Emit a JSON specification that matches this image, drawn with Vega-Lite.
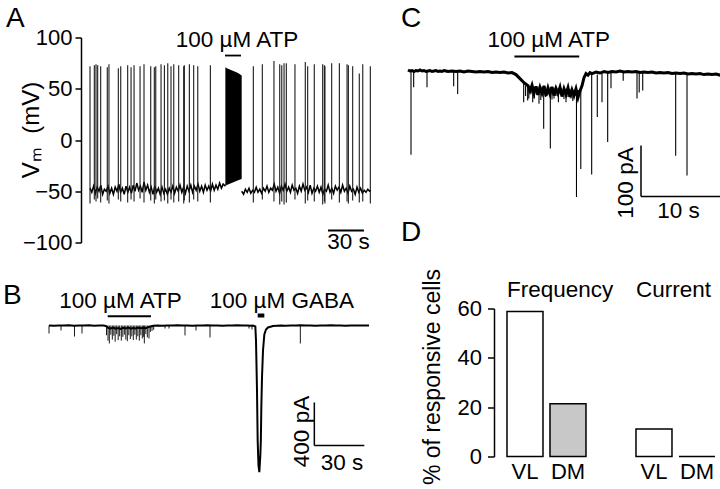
{
"$schema": "https://vega.github.io/schema/vega-lite/v6.json",
"background": "white",
"padding": {"left": 2, "top": 4.5, "right": 0, "bottom": 0},
"config": {
  "view": {"stroke": null},
  "font": "Liberation Sans",
  "axis": {"grid": false, "labelFont": "Liberation Sans", "titleFont": "Liberation Sans", "labelColor": "black", "titleColor": "black", "domainColor": "black", "tickColor": "black", "titleFontWeight": "normal"},
  "text": {"font": "Liberation Sans", "fontSize": 22.5, "color": "black"}
},
"datasets": {
  "aBase": [
    {"seg":1,"t":0,"v":-47},{"seg":1,"t":1.5,"v":-51},{"seg":1,"t":3,"v":-45},{"seg":1,"t":4.5,"v":-52},{"seg":1,"t":6,"v":-46},{"seg":1,"t":7.5,"v":-50},{"seg":1,"t":9,"v":-44},{"seg":1,"t":10.5,"v":-53},{"seg":1,"t":12,"v":-48},{"seg":1,"t":13.5,"v":-50},
    {"seg":1,"t":15,"v":-45},{"seg":1,"t":16.5,"v":-52},{"seg":1,"t":18,"v":-47},{"seg":1,"t":19.5,"v":-53},{"seg":1,"t":21,"v":-46},{"seg":1,"t":22.5,"v":-50},{"seg":1,"t":24,"v":-43},{"seg":1,"t":25.5,"v":-51},{"seg":1,"t":27,"v":-47},{"seg":1,"t":28.5,"v":-53},
    {"seg":1,"t":30,"v":-45},{"seg":1,"t":31.5,"v":-51},{"seg":1,"t":33,"v":-46},{"seg":1,"t":34.5,"v":-52},{"seg":1,"t":36,"v":-44},{"seg":1,"t":37.5,"v":-50},{"seg":1,"t":39,"v":-42},{"seg":1,"t":40.5,"v":-49},{"seg":1,"t":42,"v":-45},{"seg":1,"t":43.5,"v":-51},
    {"seg":1,"t":45,"v":-41},{"seg":1,"t":46.5,"v":-49},{"seg":1,"t":48,"v":-44},{"seg":1,"t":49.5,"v":-51},{"seg":1,"t":51,"v":-46},{"seg":1,"t":52.5,"v":-53},{"seg":1,"t":54,"v":-45},{"seg":1,"t":55.5,"v":-51},{"seg":1,"t":57,"v":-47},{"seg":1,"t":58.5,"v":-53},
    {"seg":1,"t":60,"v":-46},{"seg":1,"t":61.5,"v":-52},{"seg":1,"t":63,"v":-48},{"seg":1,"t":64.5,"v":-53},{"seg":1,"t":66,"v":-47},{"seg":1,"t":67.5,"v":-51},{"seg":1,"t":69,"v":-45},{"seg":1,"t":70.5,"v":-52},{"seg":1,"t":72,"v":-46},{"seg":1,"t":73.5,"v":-50},
    {"seg":1,"t":75,"v":-44},{"seg":1,"t":76.5,"v":-51},{"seg":1,"t":78,"v":-46},{"seg":1,"t":79.5,"v":-52},{"seg":1,"t":81,"v":-45},{"seg":1,"t":82.5,"v":-50},{"seg":1,"t":84,"v":-44},{"seg":1,"t":85.5,"v":-51},{"seg":1,"t":87,"v":-45},{"seg":1,"t":88.5,"v":-49},
    {"seg":1,"t":90,"v":-43},{"seg":1,"t":91.5,"v":-50},{"seg":1,"t":93,"v":-45},{"seg":1,"t":94.5,"v":-51},{"seg":1,"t":96,"v":-44},{"seg":1,"t":97.5,"v":-49},{"seg":1,"t":99,"v":-45},{"seg":1,"t":100.5,"v":-50},{"seg":1,"t":102,"v":-43},{"seg":1,"t":103.5,"v":-49},
    {"seg":1,"t":105,"v":-44},{"seg":1,"t":106.5,"v":-48},{"seg":1,"t":108,"v":-42},{"seg":1,"t":109.5,"v":-47},{"seg":1,"t":111,"v":-43},{"seg":1,"t":112.8,"v":-45},
    {"seg":2,"t":126.4,"v":-50},{"seg":2,"t":128,"v":-53},{"seg":2,"t":129.5,"v":-48},{"seg":2,"t":131,"v":-51},{"seg":2,"t":132.5,"v":-47},{"seg":2,"t":134,"v":-52},{"seg":2,"t":135.5,"v":-49},{"seg":2,"t":137,"v":-51},{"seg":2,"t":138.5,"v":-46},{"seg":2,"t":140,"v":-51},
    {"seg":2,"t":141.5,"v":-48},{"seg":2,"t":143,"v":-52},{"seg":2,"t":144.5,"v":-47},{"seg":2,"t":146,"v":-50},{"seg":2,"t":147.5,"v":-45},{"seg":2,"t":149,"v":-51},{"seg":2,"t":150.5,"v":-47},{"seg":2,"t":152,"v":-49},{"seg":2,"t":153.5,"v":-43},{"seg":2,"t":155,"v":-50},
    {"seg":2,"t":156.5,"v":-46},{"seg":2,"t":158,"v":-52},{"seg":2,"t":159.5,"v":-45},{"seg":2,"t":161,"v":-49},{"seg":2,"t":162.5,"v":-43},{"seg":2,"t":164,"v":-50},{"seg":2,"t":165.5,"v":-46},{"seg":2,"t":167,"v":-51},{"seg":2,"t":168.5,"v":-44},{"seg":2,"t":170,"v":-49},
    {"seg":2,"t":171.5,"v":-47},{"seg":2,"t":173,"v":-52},{"seg":2,"t":174.5,"v":-45},{"seg":2,"t":176,"v":-50},{"seg":2,"t":177.5,"v":-43},{"seg":2,"t":179,"v":-49},{"seg":2,"t":180.5,"v":-46},{"seg":2,"t":182,"v":-51},{"seg":2,"t":183.5,"v":-44},{"seg":2,"t":185,"v":-52},
    {"seg":2,"t":186.5,"v":-47},{"seg":2,"t":188,"v":-50},{"seg":2,"t":189.5,"v":-45},{"seg":2,"t":191,"v":-51},{"seg":2,"t":192.5,"v":-46},{"seg":2,"t":194,"v":-53},{"seg":2,"t":195.5,"v":-48},{"seg":2,"t":197,"v":-50},{"seg":2,"t":198.5,"v":-44},{"seg":2,"t":200,"v":-51},
    {"seg":2,"t":201.5,"v":-47},{"seg":2,"t":203,"v":-52},{"seg":2,"t":204.5,"v":-45},{"seg":2,"t":206,"v":-49},{"seg":2,"t":207.5,"v":-46},{"seg":2,"t":209,"v":-51},{"seg":2,"t":210.5,"v":-44},{"seg":2,"t":212,"v":-50},{"seg":2,"t":213.5,"v":-47},{"seg":2,"t":215,"v":-52},
    {"seg":2,"t":216.5,"v":-45},{"seg":2,"t":218,"v":-50},{"seg":2,"t":219.5,"v":-48},{"seg":2,"t":221,"v":-53},{"seg":2,"t":222.5,"v":-46},{"seg":2,"t":224,"v":-51},{"seg":2,"t":225.5,"v":-47},{"seg":2,"t":227,"v":-52},{"seg":2,"t":228.5,"v":-49},{"seg":2,"t":230,"v":-51},
    {"seg":2,"t":231.5,"v":-48},{"seg":2,"t":233,"v":-50},{"seg":2,"t":234,"v":-49}
  ],
  "aSpk": [
    {"t":0,"lo":-62,"hi":72},{"t":3.6,"lo":-58,"hi":73},{"t":5.0,"lo":-60,"hi":74},{"t":6.4,"lo":-57,"hi":73},{"t":8.9,"lo":-61,"hi":72},
    {"t":14.4,"lo":-59,"hi":71},{"t":15.8,"lo":-62,"hi":74},{"t":23.6,"lo":-58,"hi":70},{"t":25.6,"lo":-60,"hi":72},{"t":31.4,"lo":-61,"hi":73},
    {"t":34.2,"lo":-58,"hi":71},{"t":36.7,"lo":-60,"hi":73},{"t":41.7,"lo":-57,"hi":72},{"t":45.0,"lo":-61,"hi":74},{"t":50.6,"lo":-59,"hi":72},
    {"t":53.6,"lo":-62,"hi":71},{"t":54.8,"lo":-58,"hi":72},{"t":59.2,"lo":-60,"hi":74},{"t":62.0,"lo":-59,"hi":73},{"t":64.8,"lo":-62,"hi":75},
    {"t":67.5,"lo":-58,"hi":72},{"t":69.8,"lo":-61,"hi":74},{"t":73.9,"lo":-60,"hi":73},{"t":78.1,"lo":-62,"hi":72},{"t":78.6,"lo":-59,"hi":73},
    {"t":82.8,"lo":-61,"hi":74},{"t":86.4,"lo":-58,"hi":73},{"t":89.8,"lo":-60,"hi":72},{"t":100.3,"lo":-61,"hi":73},
    {"t":136.1,"lo":-61,"hi":72},{"t":143.6,"lo":-58,"hi":74},{"t":153.3,"lo":-60,"hi":77},{"t":158.1,"lo":-63,"hi":74},{"t":159.8,"lo":-60,"hi":73},
    {"t":161.7,"lo":-63,"hi":75},{"t":163.6,"lo":-61,"hi":75},{"t":170.8,"lo":-58,"hi":74},{"t":179.4,"lo":-62,"hi":76},{"t":181.4,"lo":-59,"hi":72},
    {"t":186.9,"lo":-60,"hi":74},{"t":193.9,"lo":-63,"hi":74},{"t":195.3,"lo":-60,"hi":73},{"t":195.8,"lo":-62,"hi":72},{"t":201.4,"lo":-58,"hi":75},
    {"t":207.8,"lo":-61,"hi":75},{"t":214.2,"lo":-60,"hi":74},{"t":215.3,"lo":-62,"hi":73},{"t":218.9,"lo":-59,"hi":72},{"t":224.4,"lo":-61,"hi":65},
    {"t":227.3,"lo":-60,"hi":74},{"t":233.6,"lo":-62,"hi":72}
  ],
  "aBurst": [
    {"t":112.8,"top":71,"bot":-45},{"t":114,"top":70,"bot":-44},{"t":116,"top":69,"bot":-43},{"t":118,"top":68,"bot":-42},
    {"t":120,"top":67,"bot":-41},{"t":122,"top":66,"bot":-40},{"t":124,"top":65,"bot":-39},{"t":126.4,"top":63,"bot":-38}
  ],
  "aBars": [
    {"t":112.5,"t2":125.8,"v":82.4},
    {"t":198.3,"t2":228.3,"v":-88.3}
  ],
  "aText": [
    {"t":122.5,"v":90.5,"label":"100 µM ATP"},
    {"t":215.4,"v":-105.9,"label":"30 s"}
  ],
  "aLetter": [{"t":-70,"v":109.8,"label":"A"}],
  "bBase": [
    {"t":0,"v":0},{"t":3,"v":-2},{"t":6,"v":1},{"t":9,"v":-1},{"t":12,"v":2},{"t":15,"v":-2},{"t":18,"v":1},{"t":21,"v":-1},{"t":24,"v":2},{"t":27,"v":-2},
    {"t":30,"v":1},{"t":33,"v":-1},{"t":34.5,"v":-8},{"t":35.5,"v":-22},{"t":37,"v":-28},{"t":38.5,"v":-20},{"t":40,"v":-30},{"t":41.5,"v":-24},{"t":43,"v":-32},{"t":44.5,"v":-22},
    {"t":46,"v":-28},{"t":47.5,"v":-20},{"t":49,"v":-30},{"t":50.5,"v":-24},{"t":52,"v":-28},{"t":53.5,"v":-20},{"t":55,"v":-26},{"t":56.5,"v":-22},{"t":58,"v":-25},{"t":59.5,"v":-15},
    {"t":61,"v":-10},{"t":62.5,"v":-3},{"t":65,"v":1},{"t":68,"v":-2},{"t":71,"v":1},{"t":74,"v":-1},{"t":77,"v":2},{"t":80,"v":-1},{"t":83,"v":1},{"t":86,"v":-2},
    {"t":89,"v":1},{"t":92,"v":-1},{"t":95,"v":2},{"t":98,"v":-1},{"t":101,"v":1},{"t":104,"v":-2},{"t":107,"v":1},{"t":110,"v":-1},{"t":113,"v":2},{"t":116,"v":-1},
    {"t":119,"v":1},{"t":121,"v":-2},{"t":122.4,"v":0},{"t":123.8,"v":-9},{"t":124.2,"v":-139},{"t":124.8,"v":-601},{"t":125.2,"v":-1064},{"t":125.7,"v":-1295},{"t":126.2,"v":-1357},{"t":126.8,"v":-1202},
    {"t":127.1,"v":-1064},{"t":127.4,"v":-756},{"t":127.8,"v":-478},{"t":128.4,"v":-231},{"t":129.2,"v":-83},{"t":130.2,"v":-37},{"t":131.4,"v":-18.5},{"t":134.4,"v":-4.6},{"t":139.2,"v":0},{"t":142,"v":-2},
    {"t":145,"v":1},{"t":148,"v":-1},{"t":151,"v":2},{"t":154,"v":-1},{"t":157,"v":1},{"t":160,"v":-2},{"t":163,"v":1},{"t":166,"v":-1},{"t":169,"v":2},{"t":172,"v":-1},
    {"t":175,"v":1},{"t":178,"v":-2},{"t":181,"v":1},{"t":184,"v":-1},{"t":187,"v":1},{"t":190,"v":-1},{"t":192,"v":0}
  ],
  "bSpk": [
    {"t":0,"lo":-74},{"t":7.2,"lo":-46},{"t":15.3,"lo":-102},{"t":19.8,"lo":-74},{"t":69.6,"lo":-28},{"t":72,"lo":-28},{"t":81.6,"lo":-92},{"t":88.2,"lo":-46},{"t":96.6,"lo":-111},{"t":120,"lo":-28},{"t":121.8,"lo":-37},{"t":150.8,"lo":-166},
    {"t":34.5,"lo":-90},{"t":35.4,"lo":-140},{"t":36.2,"lo":-166},{"t":37.1,"lo":-85},{"t":38.0,"lo":-130},{"t":38.9,"lo":-95},{"t":39.7,"lo":-150},
    {"t":40.6,"lo":-80},{"t":41.5,"lo":-135},{"t":42.4,"lo":-100},{"t":43.4,"lo":-140},{"t":44.3,"lo":-105},{"t":45.2,"lo":-85},{"t":46.1,"lo":-130},
    {"t":47.0,"lo":-145},{"t":47.9,"lo":-90},{"t":48.8,"lo":-125},{"t":49.7,"lo":-100},{"t":50.6,"lo":-135},{"t":51.5,"lo":-85},{"t":52.4,"lo":-130},
    {"t":53.3,"lo":-100},{"t":54.2,"lo":-140},{"t":55.1,"lo":-90},{"t":56.0,"lo":-120},{"t":56.8,"lo":-105},{"t":57.2,"lo":-166},{"t":58.1,"lo":-80},
    {"t":59.0,"lo":-110},{"t":60.0,"lo":-120},{"t":60.8,"lo":-60},{"t":61.8,"lo":-50},{"t":62.8,"lo":-40}
  ],
  "bBars": [{"t":35.2,"t2":61.2,"v":86}],
  "bGaba": [{"t":125.2,"t2":129.2,"v":92.5}],
  "bScale": [
    {"t":159.2,"t2":159.2,"v":-712,"v2":-1110},
    {"t":159.2,"t2":189.2,"v":-1110,"v2":-1110}
  ],
  "bText": [
    {"t":42.9,"v":166,"label":"100 µM ATP"},
    {"t":139.7,"v":166,"label":"100 µM GABA"},
    {"t":175.8,"v":-1341,"label":"30 s"}
  ],
  "bRot": [{"t":151.8,"v":-980.5,"label":"400 pA"}],
  "bLetter": [{"t":-27.6,"v":203.5,"label":"B"}],
  "cBase": [
    {"t":0,"v":1},{"t":0.25,"v":-1},{"t":0.5,"v":0},{"t":0.75,"v":-2},{"t":1,"v":0},{"t":1.25,"v":-1},{"t":1.5,"v":1},{"t":1.75,"v":-1},{"t":2,"v":0},{"t":2.25,"v":-2},
    {"t":2.5,"v":-1},{"t":2.75,"v":0},{"t":3,"v":-2},{"t":3.25,"v":-1},{"t":3.5,"v":0},{"t":3.75,"v":-2},{"t":4,"v":-1},{"t":4.25,"v":-2},{"t":4.5,"v":0},{"t":4.75,"v":-1},
    {"t":5,"v":-2},{"t":5.5,"v":-1},{"t":6,"v":-2},{"t":6.5,"v":-1},{"t":7,"v":-3},{"t":7.5,"v":-1},{"t":8,"v":-2},{"t":8.5,"v":-3},{"t":9,"v":-2},{"t":9.5,"v":-3},
    {"t":10,"v":-2},{"t":10.5,"v":-4},{"t":11,"v":-3},{"t":11.5,"v":-4},{"t":12,"v":-3},{"t":12.5,"v":-5},{"t":13,"v":-4},{"t":13.5,"v":-8},{"t":14,"v":-16},{"t":14.5,"v":-24},
    {"t":15,"v":-30},{"t":15.25,"v":-40},{"t":15.5,"v":-29},{"t":15.75,"v":-45},{"t":16,"v":-31},{"t":16.25,"v":-48},{"t":16.5,"v":-33},{"t":16.75,"v":-44},{"t":17,"v":-30},{"t":17.25,"v":-50},
    {"t":17.5,"v":-34},{"t":17.75,"v":-46},{"t":18,"v":-32},{"t":18.25,"v":-49},{"t":18.5,"v":-35},{"t":18.75,"v":-45},{"t":19,"v":-33},{"t":19.25,"v":-51},{"t":19.5,"v":-36},{"t":19.75,"v":-47},
    {"t":20,"v":-34},{"t":20.25,"v":-52},{"t":20.5,"v":-38},{"t":20.75,"v":-49},{"t":21,"v":-36},{"t":21.25,"v":-53},{"t":21.5,"v":-40},{"t":21.75,"v":-30},{"t":22,"v":-14},{"t":22.25,"v":-6},
    {"t":22.5,"v":-9},{"t":22.75,"v":-4},{"t":23,"v":-6},{"t":23.5,"v":-3},{"t":24,"v":-5},{"t":24.5,"v":-2},{"t":25,"v":-4},{"t":25.5,"v":-2},{"t":26,"v":-3},{"t":26.5,"v":-1},
    {"t":27,"v":-3},{"t":27.5,"v":-2},{"t":28,"v":-3},{"t":28.5,"v":-2},{"t":29,"v":-4},{"t":29.5,"v":-3},{"t":30,"v":-4},{"t":30.5,"v":-3},{"t":31,"v":-5},{"t":31.5,"v":-4},
    {"t":32,"v":-5},{"t":32.5,"v":-4},{"t":33,"v":-6},{"t":33.5,"v":-5},{"t":34,"v":-6},{"t":34.5,"v":-5},{"t":35,"v":-7},{"t":35.5,"v":-6},{"t":36,"v":-7},{"t":36.5,"v":-6},
    {"t":37,"v":-8},{"t":37.5,"v":-7},{"t":38,"v":-8},{"t":38.5,"v":-7},{"t":39,"v":-9},{"t":39.125,"v":-8}
  ],
  "cSpk": [
    {"t":0.375,"top":0,"bot":-165},{"t":0.71,"top":0,"bot":-33},{"t":2.375,"top":-1,"bot":-33},{"t":5.71,"top":-1,"bot":-31},{"t":6.21,"top":-1,"bot":-46},
    {"t":14.46,"top":-25,"bot":-62},{"t":14.7,"top":-30,"bot":-50},{"t":14.96,"top":-30,"bot":-59},{"t":15.1,"top":-30,"bot":-55},{"t":15.4,"top":-30,"bot":-45},
    {"t":15.59,"top":-30,"bot":-62},{"t":15.8,"top":-32,"bot":-55},{"t":16.1,"top":-32,"bot":-48},{"t":16.375,"top":-32,"bot":-65},{"t":16.6,"top":-32,"bot":-58},
    {"t":16.96,"top":-33,"bot":-114},{"t":17.2,"top":-33,"bot":-52},{"t":17.5,"top":-33,"bot":-47},{"t":17.79,"top":-33,"bot":-153},{"t":18.0,"top":-34,"bot":-57},
    {"t":18.25,"top":-34,"bot":-55},{"t":18.5,"top":-34,"bot":-50},{"t":18.8,"top":-35,"bot":-62},{"t":19.2,"top":-35,"bot":-49},{"t":19.5,"top":-36,"bot":-56},
    {"t":19.75,"top":-36,"bot":-62},{"t":20.0,"top":-36,"bot":-52},{"t":20.375,"top":-36,"bot":-55},{"t":20.6,"top":-38,"bot":-60},{"t":20.9,"top":-38,"bot":-50},
    {"t":21.06,"top":-38,"bot":-248},{"t":21.3,"top":-38,"bot":-58},{"t":21.6,"top":-35,"bot":-193},{"t":22.96,"top":-8,"bot":-204},{"t":23.66,"top":-8,"bot":-91},
    {"t":24.25,"top":-6,"bot":-62},{"t":24.96,"top":-5,"bot":-140},{"t":25.375,"top":-5,"bot":-35},{"t":26.9,"top":-3,"bot":-20},{"t":28.625,"top":-3,"bot":-55},
    {"t":28.9,"top":-3,"bot":-43},{"t":29.34,"top":-3,"bot":-39},{"t":33.46,"top":-5,"bot":-167},{"t":34.875,"top":-5,"bot":-206}
  ],
  "cBars": [{"t":13.3,"t2":21.4,"v":27.4}],
  "cScale": [
    {"t":29.125,"t2":29.125,"v":-147,"v2":-247},
    {"t":29.125,"t2":39.125,"v":-247,"v2":-247}
  ],
  "cText": [
    {"t":17.6,"v":46,"label":"100 µM ATP"},
    {"t":33.8,"v":-290,"label":"10 s"}
  ],
  "cRot": [{"t":27.25,"v":-220.5,"label":"100 pA"}],
  "cLetter": [
    {"t":-0.875,"v":84.3,"label":"C"},
    {"t":-0.875,"v":-335,"label":"D"}
  ],
  "dBars": [
    {"bar":"F-VL","region":"VL","pct":58.8},
    {"bar":"F-DM","region":"DM","pct":21.4},
    {"bar":"C-VL","region":"VL","pct":11.1},
    {"bar":"C-DM","region":"DM","pct":0}
  ],
  "dText": [
    {"bar":"F-VL","pct":64.5,"label":"Frequency"},
    {"bar":"C-VL","pct":64.5,"label":"Current"}
  ]
},
"spacing": 25,
"hconcat": [
  {
    "spacing": 38,
    "bounds": "flush",
    "vconcat": [
      {
        "width": 327, "height": 205,
        "layer": [
          {"data": {"name": "aBase"}, "mark": {"type": "line", "color": "black", "strokeWidth": 1.5},
           "encoding": {
             "x": {"field": "t", "type": "quantitative", "scale": {"domain": [-34.17, 238.33], "nice": false, "zero": false}, "axis": null},
             "y": {"field": "v", "type": "quantitative", "scale": {"domain": [-100, 100], "nice": false, "zero": false},
                   "axis": {"orient": "left", "offset": -32, "values": [-100, -50, 0, 50, 100], "domain": true, "domainWidth": 1.5, "tickSize": 6, "tickWidth": 1.5, "labelFontSize": 22, "labelPadding": 3, "labelFlush": false, "labelOverlap": false, "title": "Vₘ\u00a0 (mV)", "titleFontSize": 24, "titleX": -50, "titleY": 92, "titleAngle": 270, "titleAlign": "center", "titleBaseline": "middle"}},
             "detail": {"field": "seg", "type": "nominal"}
           }},
          {"data": {"name": "aSpk"}, "mark": {"type": "rule", "color": "#1a1a1a", "strokeWidth": 1.1},
           "encoding": {"x": {"field": "t", "type": "quantitative", "axis": null}, "y": {"field": "lo", "type": "quantitative"}, "y2": {"field": "hi"}}},
          {"data": {"name": "aBurst"}, "mark": {"type": "area", "color": "black"},
           "encoding": {"x": {"field": "t", "type": "quantitative", "axis": null}, "y": {"field": "top", "type": "quantitative"}, "y2": {"field": "bot"}}},
          {"data": {"name": "aBars"}, "mark": {"type": "rule", "color": "black", "strokeWidth": 1.8},
           "encoding": {"x": {"field": "t", "type": "quantitative", "axis": null}, "x2": {"field": "t2"}, "y": {"field": "v", "type": "quantitative"}}},
          {"data": {"name": "aText"}, "mark": {"type": "text", "align": "center", "baseline": "alphabetic", "fontSize": 22.5},
           "encoding": {"x": {"field": "t", "type": "quantitative", "axis": null}, "y": {"field": "v", "type": "quantitative"}, "text": {"field": "label"}}},
          {"data": {"name": "aLetter"}, "mark": {"type": "text", "align": "left", "baseline": "alphabetic", "fontSize": 28},
           "encoding": {"x": {"field": "t", "type": "quantitative", "axis": null}, "y": {"field": "v", "type": "quantitative"}, "text": {"field": "label"}}}
        ]
      },
      {
        "width": 322, "height": 200,
        "layer": [
          {"data": {"name": "bBase"}, "mark": {"type": "line", "color": "black", "strokeWidth": 2},
           "encoding": {
             "x": {"field": "t", "type": "quantitative", "scale": {"domain": [0, 193.2], "nice": false, "zero": false}, "axis": null},
             "y": {"field": "v", "type": "quantitative", "scale": {"domain": [-1433.75, 416.25], "nice": false, "zero": false}, "axis": null}
           }},
          {"data": {"name": "bSpk"}, "mark": {"type": "rule", "color": "black", "strokeWidth": 0.9},
           "encoding": {"x": {"field": "t", "type": "quantitative", "axis": null}, "y": {"field": "lo", "type": "quantitative", "axis": null}, "y2": {"datum": 0}}},
          {"data": {"name": "bBars"}, "mark": {"type": "rule", "color": "black", "strokeWidth": 2},
           "encoding": {"x": {"field": "t", "type": "quantitative", "axis": null}, "x2": {"field": "t2"}, "y": {"field": "v", "type": "quantitative", "axis": null}}},
          {"data": {"name": "bGaba"}, "mark": {"type": "rule", "color": "black", "strokeWidth": 4},
           "encoding": {"x": {"field": "t", "type": "quantitative", "axis": null}, "x2": {"field": "t2"}, "y": {"field": "v", "type": "quantitative", "axis": null}}},
          {"data": {"name": "bScale"}, "mark": {"type": "rule", "color": "black", "strokeWidth": 1.5},
           "encoding": {"x": {"field": "t", "type": "quantitative", "axis": null}, "x2": {"field": "t2"}, "y": {"field": "v", "type": "quantitative", "axis": null}, "y2": {"field": "v2"}}},
          {"data": {"name": "bText"}, "mark": {"type": "text", "align": "center", "baseline": "alphabetic", "fontSize": 22.5},
           "encoding": {"x": {"field": "t", "type": "quantitative", "axis": null}, "y": {"field": "v", "type": "quantitative", "axis": null}, "text": {"field": "label"}}},
          {"data": {"name": "bRot"}, "mark": {"type": "text", "align": "center", "baseline": "middle", "angle": 270, "fontSize": 22.5},
           "encoding": {"x": {"field": "t", "type": "quantitative", "axis": null}, "y": {"field": "v", "type": "quantitative", "axis": null}, "text": {"field": "label"}}},
          {"data": {"name": "bLetter"}, "mark": {"type": "text", "align": "left", "baseline": "alphabetic", "fontSize": 28},
           "encoding": {"x": {"field": "t", "type": "quantitative", "axis": null}, "y": {"field": "v", "type": "quantitative", "axis": null}, "text": {"field": "label"}}}
        ]
      }
    ]
  },
  {
    "spacing": 111,
    "bounds": "flush",
    "vconcat": [
      {
        "width": 313, "height": 160,
        "layer": [
          {"data": {"name": "cBase"}, "mark": {"type": "line", "color": "black", "strokeWidth": 3},
           "encoding": {
             "x": {"field": "t", "type": "quantitative", "scale": {"domain": [0, 39.125], "nice": false, "zero": false}, "axis": null},
             "y": {"field": "v", "type": "quantitative", "scale": {"domain": [-248.92, 64.68], "nice": false, "zero": false}, "axis": null}
           }},
          {"data": {"name": "cSpk"}, "mark": {"type": "rule", "color": "black", "strokeWidth": 1.1},
           "encoding": {"x": {"field": "t", "type": "quantitative", "axis": null}, "y": {"field": "top", "type": "quantitative", "axis": null}, "y2": {"field": "bot"}}},
          {"data": {"name": "cBars"}, "mark": {"type": "rule", "color": "black", "strokeWidth": 2},
           "encoding": {"x": {"field": "t", "type": "quantitative", "axis": null}, "x2": {"field": "t2"}, "y": {"field": "v", "type": "quantitative", "axis": null}}},
          {"data": {"name": "cScale"}, "mark": {"type": "rule", "color": "black", "strokeWidth": 1.5},
           "encoding": {"x": {"field": "t", "type": "quantitative", "axis": null}, "x2": {"field": "t2"}, "y": {"field": "v", "type": "quantitative", "axis": null}, "y2": {"field": "v2"}}},
          {"data": {"name": "cText"}, "mark": {"type": "text", "align": "center", "baseline": "alphabetic", "fontSize": 22.5},
           "encoding": {"x": {"field": "t", "type": "quantitative", "axis": null}, "y": {"field": "v", "type": "quantitative", "axis": null}, "text": {"field": "label"}}},
          {"data": {"name": "cRot"}, "mark": {"type": "text", "align": "center", "baseline": "middle", "angle": 270, "fontSize": 22.5},
           "encoding": {"x": {"field": "t", "type": "quantitative", "axis": null}, "y": {"field": "v", "type": "quantitative", "axis": null}, "text": {"field": "label"}}},
          {"data": {"name": "cLetter"}, "mark": {"type": "text", "align": "left", "baseline": "alphabetic", "fontSize": 28},
           "encoding": {"x": {"field": "t", "type": "quantitative", "axis": null}, "y": {"field": "v", "type": "quantitative", "axis": null}, "text": {"field": "label"}}}
        ]
      },
      {
        "width": 313, "height": 148,
        "layer": [
          {"data": {"name": "dBars"}, "mark": {"type": "bar", "stroke": "black", "strokeWidth": 1.5},
           "encoding": {
             "x": {"field": "bar", "type": "nominal", "scale": {"domain": ["pad", "F-VL", "F-DM", "gap", "C-VL", "C-DM"], "paddingInner": 0.1628, "paddingOuter": 0.721, "align": 0.903},
                   "axis": {"orient": "bottom", "title": null, "domain": false, "ticks": false, "labelAngle": 0, "labelFontSize": 22, "labelPadding": 5, "labelExpr": "length(datum.value) < 4 ? '' : substring(datum.value, 2)"}},
             "y": {"field": "pct", "type": "quantitative", "scale": {"domain": [0, 60], "nice": false},
                   "axis": {"orient": "left", "offset": -86, "values": [0, 20, 40, 60], "domain": true, "domainWidth": 1.5, "tickSize": 6.5, "tickWidth": 1.5, "labelFontSize": 22, "labelPadding": 6, "labelFlush": false, "labelOverlap": false, "title": "% of responsive cells", "titleFontSize": 23, "titleX": -62, "titleY": 68, "titleAngle": 270, "titleAlign": "center", "titleBaseline": "middle"}},
             "color": {"field": "region", "type": "nominal", "scale": {"domain": ["VL", "DM"], "range": ["white", "#c8c8c8"]}, "legend": null}
           }},
          {"data": {"name": "dText"}, "mark": {"type": "text", "align": "left", "baseline": "alphabetic", "fontSize": 22.5},
           "encoding": {"x": {"field": "bar", "type": "nominal", "bandPosition": 0}, "y": {"field": "pct", "type": "quantitative"}, "text": {"field": "label"}}}
        ]
      }
    ]
  }
]
}
